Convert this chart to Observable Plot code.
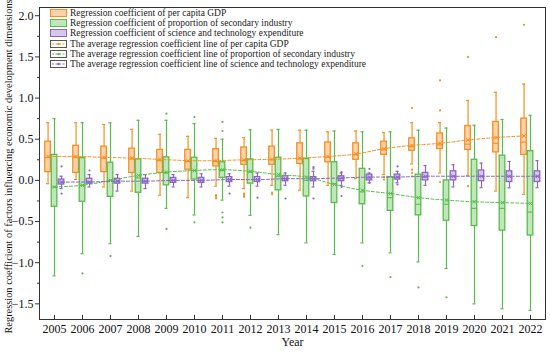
<!DOCTYPE html>
<html><head><meta charset="utf-8">
<script src="https://cdn.jsdelivr.net/npm/d3@7"></script>
<script src="https://cdn.jsdelivr.net/npm/@observablehq/plot@0.6"></script>
<style>
body{margin:0;background:#fff;}
#wrap{position:relative;width:550px;height:353px;font-family:"Liberation Serif","Times New Roman",serif;}
#leg{position:absolute;left:50px;top:8px;font-size:9.5px;color:#222;}
.row{display:flex;align-items:center;height:10.2px;white-space:nowrap;}
.row svg{margin-right:3px;flex:none;}
</style></head><body><div id="wrap"><div id="leg"></div></div>
<script>
const years = [2005,2006,2007,2008,2009,2010,2011,2012,2013,2014,2015,2016,2017,2018,2019,2020,2021,2022];
const seriesNames = [
  "Regression coefficient of per capita GDP",
  "Regression coefficient of proportion of secondary industry",
  "Regression coefficient of science and technology expenditure"];
const lineNames = [
  "The average regression coefficient line of per capita GDP",
  "The average regression coefficient line of proportion of secondary industry",
  "The average regression coefficient line of science and technology expenditure"];
const yTicks = [-1.5,-1.0,-0.5,0.0,0.5,1.0,1.5,2.0];
const yMinorTicks = [-1.25,-0.75,-0.25,0.25,0.75,1.25,1.75];

// per capita GDP
const gdpLow  = [-0.04,0.01,-0.08,-0.13,-0.18,-0.21,-0.07,-0.10,-0.06,-0.12,-0.06,0.02,0.07,0.20,0.09,0.06,-0.13,-0.17];
const gdpQ1   = [0.10,0.09,0.10,0.09,0.09,0.13,0.17,0.19,0.19,0.20,0.22,0.25,0.31,0.36,0.38,0.37,0.34,0.31];
const gdpMed  = [0.28,0.28,0.27,0.26,0.24,0.23,0.23,0.24,0.25,0.26,0.28,0.31,0.37,0.41,0.43,0.44,0.45,0.465];
const gdpQ3   = [0.47,0.42,0.41,0.385,0.37,0.37,0.38,0.40,0.41,0.45,0.46,0.45,0.47,0.51,0.57,0.66,0.71,0.75];
const gdpHigh = [0.70,0.70,0.68,0.62,0.56,0.535,0.51,0.52,0.61,0.61,0.59,0.60,0.58,0.70,0.70,0.97,1.07,1.17];
const gdpMean = [0.29,0.29,0.28,0.27,0.255,0.24,0.24,0.25,0.255,0.27,0.29,0.32,0.385,0.425,0.45,0.49,0.52,0.54];
const gdpOut  = [[2011,-0.18],[2011,-0.20],[2011,-0.22],[2012,-0.16],[2012,-0.18],[2012,-0.20],[2013,-0.15],[2013,-0.17],
  [2017,0.04],[2017,0.01],[2018,0.88],[2018,0.13],[2018,0.09],[2018,0.05],[2019,1.215],[2019,0.85],[2019,-0.02],
  [2020,1.50],[2020,-0.07],[2021,1.74],[2022,1.89]];

// proportion of secondary industry
const indLow  = [-1.16,-0.89,-0.77,-0.68,-0.34,-0.42,-0.24,-0.425,-0.66,-0.76,-0.90,-0.76,-0.88,-0.99,-1.07,-1.50,-1.56,-1.58];
const indQ1   = [-0.32,-0.26,-0.20,-0.15,-0.06,0.01,0.03,-0.04,-0.12,-0.195,-0.275,-0.29,-0.37,-0.425,-0.49,-0.555,-0.61,-0.67];
const indMed  = [-0.08,-0.06,0.0,0.03,0.09,0.12,0.12,0.10,0.05,0.0,-0.04,-0.14,-0.21,-0.29,-0.29,-0.34,-0.34,-0.385];
const indQ3   = [0.31,0.27,0.215,0.255,0.28,0.275,0.22,0.255,0.275,0.26,0.22,0.14,0.04,0.07,0.0,0.25,0.30,0.355];
const indHigh = [0.75,0.70,0.70,0.73,0.73,0.69,0.50,0.615,0.62,0.61,0.60,0.59,0.59,0.61,0.635,0.67,0.74,0.79];
const indMean = [-0.08,-0.06,0.0,0.06,0.10,0.12,0.13,0.11,0.07,0.04,-0.05,-0.12,-0.16,-0.21,-0.24,-0.26,-0.27,-0.28];
const indOut  = [[2006,-1.13],[2007,-0.92],[2009,0.81],[2009,-0.59],[2010,0.77],[2010,-0.51],
  [2011,0.71],[2011,0.60],[2011,-0.39],[2011,-0.45],[2011,-0.51],[2012,-0.575],
  [2016,-1.04],[2017,-1.175],[2018,-1.30],[2019,-1.42]];

// science and technology expenditure
const sciLow  = [-0.10,-0.08,-0.13,-0.10,-0.08,-0.08,-0.07,-0.07,-0.06,-0.08,-0.06,-0.03,-0.03,-0.06,-0.08,-0.09,-0.09,-0.09];
const sciQ1   = [-0.05,-0.04,-0.04,-0.04,-0.03,-0.03,-0.02,-0.02,-0.01,-0.01,-0.01,0.0,0.01,0.0,0.0,-0.01,-0.02,-0.02];
const sciMed  = [-0.02,-0.02,-0.01,-0.01,0.0,0.0,0.01,0.01,0.02,0.02,0.02,0.03,0.04,0.04,0.05,0.05,0.05,0.05];
const sciQ3   = [0.01,0.02,0.02,0.02,0.03,0.03,0.04,0.04,0.05,0.04,0.05,0.07,0.07,0.09,0.11,0.12,0.11,0.11];
const sciHigh = [0.05,0.07,0.07,0.07,0.07,0.08,0.08,0.09,0.09,0.11,0.09,0.09,0.11,0.18,0.19,0.21,0.23,0.24];
const sciMean = [-0.02,-0.02,-0.01,-0.01,0.0,0.0,0.01,0.01,0.02,0.02,0.03,0.04,0.04,0.05,0.05,0.05,0.05,0.05];
const sciOut  = [[2005,0.17],[2005,-0.16],[2006,0.12],[2011,-0.16],[2012,-0.21],[2013,-0.22],
  [2014,0.16],[2014,0.14],[2014,-0.22],[2015,0.10],[2015,-0.08],[2015,-0.19],[2016,0.14],[2016,-0.03],[2017,0.17],[2017,-0.05]];

const series = [
  {name: seriesNames[0], line: lineNames[0], off: -0.23, stroke: "#F5901F", fill: "#FBD2AC",
   low: gdpLow, q1: gdpQ1, med: gdpMed, q3: gdpQ3, high: gdpHigh, mean: gdpMean, out: gdpOut},
  {name: seriesNames[1], line: lineNames[1], off: 0, stroke: "#58BC4C", fill: "#C0E6BA",
   low: indLow, q1: indQ1, med: indMed, q3: indQ3, high: indHigh, mean: indMean, out: indOut},
  {name: seriesNames[2], line: lineNames[2], off: 0.25, stroke: "#8C66C4", fill: "#D6C8EC",
   low: sciLow, q1: sciQ1, med: sciMed, q3: sciQ3, high: sciHigh, mean: sciMean, out: sciOut}
];

const yDom = [-1.69, 2.1];
const xDom = [2004.464, 2022.536];
const hw = 0.1, cw = 0.055;
const marks = [];
for (const s of series) {
  const rows = years.map((y, i) => ({x: y + s.off, low: s.low[i], q1: s.q1[i], med: s.med[i], q3: s.q3[i], high: s.high[i], mean: s.mean[i]}));
  marks.push(
    Plot.ruleX(rows, {x: "x", y1: "low", y2: "q1", stroke: s.stroke, strokeWidth: 1.2}),
    Plot.ruleX(rows, {x: "x", y1: "q3", y2: "high", stroke: s.stroke, strokeWidth: 1.2}),
    Plot.ruleY(rows, {y: "low", x1: d => d.x - cw, x2: d => d.x + cw, stroke: s.stroke, strokeWidth: 1.2}),
    Plot.ruleY(rows, {y: "high", x1: d => d.x - cw, x2: d => d.x + cw, stroke: s.stroke, strokeWidth: 1.2}),
    Plot.rect(rows, {x1: d => d.x - hw, x2: d => d.x + hw, y1: "q1", y2: "q3", fill: s.fill, stroke: s.stroke, strokeWidth: 1.3}),
    Plot.ruleY(rows, {y: "med", x1: d => d.x - hw, x2: d => d.x + hw, stroke: s.stroke, strokeWidth: 1.1}),
    Plot.dot(s.out, {x: d => d[0] + s.off, y: d => d[1], r: 1.1, fill: s.stroke, stroke: null})
  );
}
for (const s of series) {
  const rows = years.map((y, i) => ({x: y + s.off, mean: s.mean[i]}));
  marks.push(
    Plot.line(rows, {x: "x", y: "mean", stroke: s.stroke, strokeWidth: 1, strokeDasharray: "3,2", curve: "catmull-rom"}),
    Plot.dot(rows, {x: "x", y: "mean", symbol: "times", r: 1.8, stroke: s.stroke, strokeWidth: 1})
  );
}

const chart = Plot.plot({
  width: 550, height: 353,
  marginLeft: 39, marginRight: 5, marginTop: 7, marginBottom: 34,
  style: {fontFamily: '"Liberation Serif","Times New Roman",serif', fontSize: "12px", color: "#111", background: "white"},
  x: {domain: xDom, type: "linear"},
  y: {domain: yDom},
  marks: [
    ...marks,
    Plot.frame({stroke: "#333", strokeWidth: 1}),
    Plot.axisY({ticks: yTicks, tickSize: 4, tickPadding: 2, fontSize: 12, tickFormat: d => d.toFixed(1).replace("-", "\u2212"), label: null, stroke: "#333"}),
    Plot.axisY({ticks: yMinorTicks, tickSize: 2, tickFormat: () => "", label: null, stroke: "#333"}),
    Plot.ruleX(years, {x: d => d, y1: yDom[0], y2: yDom[0] + 0.05, stroke: "#333"}),
    Plot.axisX({ticks: years, tickSize: 0, tickPadding: 5, tickFormat: "d", fontSize: 12, label: null}),
    Plot.text(["Regression coefficient of factors influencing economic development dimensions"], {text: d => d, frameAnchor: "left", textAnchor: "middle", rotate: -90, dx: -31, dy: 3, fontSize: 10.4, fill: "#111"}),
    Plot.text(["Year"], {text: d => d, frameAnchor: "bottom", dy: 26, fontSize: 12, fill: "#111"})
  ]
});
const wrap = document.getElementById("wrap");
wrap.insertBefore(chart, wrap.firstChild);

const leg = document.getElementById("leg");
const ns = "http://www.w3.org/2000/svg";
function addRow(label, drawer) {
  const row = document.createElement("div");
  row.className = "row";
  const sv = document.createElementNS(ns, "svg");
  sv.setAttribute("width", 17); sv.setAttribute("height", 8);
  sv.innerHTML = drawer;
  row.appendChild(sv);
  const t = document.createElement("span");
  t.textContent = label;
  row.appendChild(t);
  leg.appendChild(row);
}
for (const s of series) {
  addRow(s.name, `<rect x="0.5" y="0.5" width="16" height="7" fill="${s.fill}" stroke="${s.stroke}" stroke-width="1"/>`);
}
for (const s of series) {
  addRow(s.line, `<rect x="0.5" y="0.5" width="16" height="7" fill="white" stroke="#555" stroke-width="1"/>` +
    `<line x1="2" x2="15" y1="4" y2="4" stroke="${s.stroke}" stroke-dasharray="2,1.5"/>` +
    `<circle cx="8.5" cy="4" r="1.3" fill="${s.stroke}"/>`);
}
</script></body></html>
